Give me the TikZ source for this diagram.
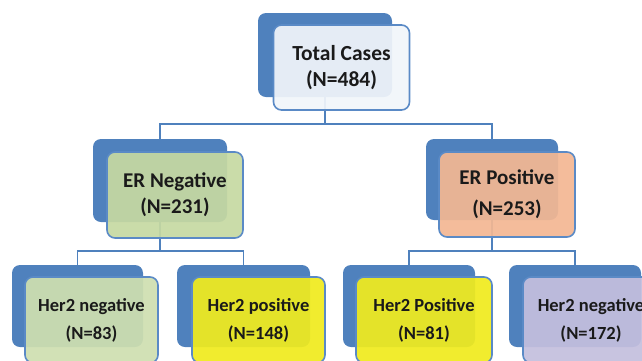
\documentclass[tikz,border=0pt]{standalone}
\usepackage{fontspec}
\setmainfont{Carlito}
\definecolor{backblue}{HTML}{4F81BD}
\definecolor{frameblue}{HTML}{5A8AC6}
\definecolor{topfill}{HTML}{F1F5FA}
\definecolor{greenfill}{HTML}{C6D9A2}
\definecolor{peachfill}{HTML}{F3B793}
\definecolor{yellowfill}{HTML}{F0EB1E}
\definecolor{lavfill}{HTML}{C4BFDE}
\definecolor{txt}{HTML}{1A1A1A}
\begin{document}
\begin{tikzpicture}[x=1pt,y=-1pt,
  backbox/.style={draw=none, fill=backblue, rounded corners=8pt, inner sep=0pt},
  frontbox/.style={draw=frameblue, line width=1.6pt, fill opacity=0.93, text opacity=1,
     rounded corners=8pt, inner sep=0pt, minimum width=136pt, text=txt,
     font=\bfseries, align=center},
  conn/.style={draw=backblue, line width=1.5pt}]
\useasboundingbox (0,0) rectangle (642,360);
% connectors
\coordinate (bus1) at (0,124);
\coordinate (bus2) at (0,251);
% back boxes
\node[backbox, minimum width=134pt, minimum height=84pt] (tb) at (325,55) {};
\node[backbox, minimum width=134pt, minimum height=83pt] (enb) at (160,180.5) {};
\node[backbox, minimum width=132pt, minimum height=81pt] (epb) at (492,179.5) {};
\node[backbox, minimum width=131pt, minimum height=82pt] (b1b) at (77.5,306) {};
\node[backbox, minimum width=133pt, minimum height=82pt] (b2b) at (243.5,306) {};
\node[backbox, minimum width=132pt, minimum height=82pt] (b3b) at (409,306) {};
\node[backbox, minimum width=132pt, minimum height=82pt] (b4b) at (575,306) {};
% connector lines
\draw[conn] (tb.south) -- (tb.south |- bus1) -| (enb.north);
\draw[conn] (tb.south |- bus1) -| (epb.north);
\draw[conn] (enb.south) -- (enb.south |- bus2) -| (b1b.north);
\draw[conn] (enb.south |- bus2) -| (b2b.north);
\draw[conn] (epb.south) -- (epb.south |- bus2) -| (b3b.north);
\draw[conn] (epb.south |- bus2) -| (b4b.north);
% front boxes
\node[frontbox, fill=topfill, minimum height=85pt, font=\bfseries\fontsize{21.5}{26}\selectfont] (t) at (341.5,67.5) {Total Cases\\(N=484)};
\node[frontbox, fill=greenfill, minimum height=86pt, font=\bfseries\fontsize{21}{26}\selectfont] (en) at (175,195) {ER Negative\\(N=231)};
\node[frontbox, fill=peachfill, minimum height=85pt, font=\bfseries\fontsize{21}{31}\selectfont] (ep) at (507,194.5) {ER Positive\\(N=253)};
\node[frontbox, fill=greenfill!85!white, minimum width=133pt, minimum height=86pt, font=\bfseries\fontsize{18.5}{28}\selectfont] (b1) at (91.5,320) {Her2 negative\\(N=83)};
\node[frontbox, fill=yellowfill, minimum width=133pt, minimum height=86pt, font=\bfseries\fontsize{18.5}{28}\selectfont] (b2) at (258.5,320) {Her2 positive\\(N=148)};
\node[frontbox, fill=yellowfill, minimum width=136pt, minimum height=86pt, font=\bfseries\fontsize{18.5}{28}\selectfont] (b3) at (424,320) {Her2 Positive\\(N=81)};
\node[frontbox, fill=lavfill, minimum width=136pt, minimum height=86pt, font=\bfseries\fontsize{18.5}{28}\selectfont] (b4) at (591,320) {Her2 negative\\(N=172)};
\end{tikzpicture}
\end{document}
